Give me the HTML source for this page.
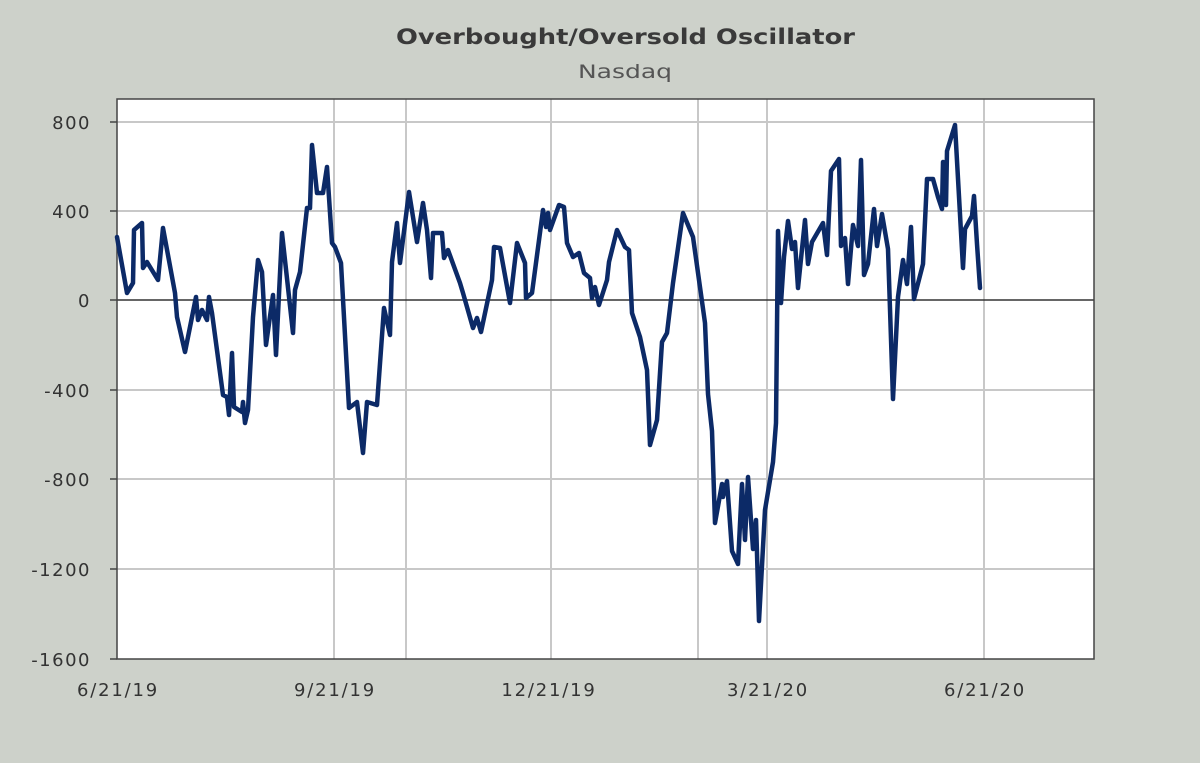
<!DOCTYPE html>
<html><head><meta charset="utf-8"><style>
html,body{margin:0;padding:0;background:#cdd1ca;}
svg{display:block;}
text{font-family:"DejaVu Sans","Liberation Sans",sans-serif;}
</style></head><body>
<svg width="1200" height="763" viewBox="0 0 1200 763" xmlns="http://www.w3.org/2000/svg">
<rect width="1200" height="763" fill="#cdd1ca"/>
<text x="396" y="44" textLength="459" lengthAdjust="spacingAndGlyphs" font-size="21" font-weight="bold" fill="#3a3a3a">Overbought/Oversold  Oscillator</text>
<text x="578" y="78" textLength="94" lengthAdjust="spacingAndGlyphs" font-size="19" fill="#555">Nasdaq</text>
<rect x="117" y="99" width="977" height="560" fill="#fff"/>
<g stroke="#c8c8c8" stroke-width="2">
<line x1="117" y1="122" x2="1094" y2="122"/>
<line x1="117" y1="211" x2="1094" y2="211"/>
<line x1="117" y1="390" x2="1094" y2="390"/>
<line x1="117" y1="479" x2="1094" y2="479"/>
<line x1="117" y1="569" x2="1094" y2="569"/>
<line x1="334" y1="99" x2="334" y2="659"/>
<line x1="406" y1="99" x2="406" y2="659"/>
<line x1="551" y1="99" x2="551" y2="659"/>
<line x1="698" y1="99" x2="698" y2="659"/>
<line x1="767" y1="99" x2="767" y2="659"/>
<line x1="984" y1="99" x2="984" y2="659"/>
</g>
<line x1="117" y1="300" x2="1094" y2="300" stroke="#333" stroke-width="1.5"/>
<rect x="117" y="99" width="977" height="560" fill="none" stroke="#444" stroke-width="1.5"/>
<g stroke="#444" stroke-width="1.5">
<line x1="110" y1="122" x2="117" y2="122"/><line x1="110" y1="211" x2="117" y2="211"/><line x1="110" y1="300" x2="117" y2="300"/><line x1="110" y1="390" x2="117" y2="390"/><line x1="110" y1="479" x2="117" y2="479"/><line x1="110" y1="569" x2="117" y2="569"/><line x1="110" y1="659" x2="117" y2="659"/>
</g>
<g font-size="18" fill="#333" text-anchor="end" letter-spacing="1.5">
<text x="91" y="129">800</text><text x="91" y="218">400</text><text x="91" y="307">0</text><text x="91" y="397">-400</text><text x="91" y="486">-800</text><text x="91" y="576">-1200</text><text x="91" y="666">-1600</text>
</g>
<g font-size="18" fill="#333" text-anchor="middle" letter-spacing="1.8">
<text x="118" y="696">6/21/19</text><text x="335" y="696">9/21/19</text><text x="549" y="696">12/21/19</text><text x="768" y="696">3/21/20</text><text x="985" y="696">6/21/20</text>
</g>
<polyline fill="none" stroke="#0c2a67" stroke-width="4.5" stroke-linejoin="round" stroke-linecap="round" points="
117,237 127,293 133,283 134,230 142,223 143,268 147,262 158,280 163,228 175,293 177,317 185,352 196,297 198,320 202,310 207,320 209,297 212,313 223,395 227,397 229,415 232,353 234,407 242,412 243,402 245,423 248,410 253,317 258,260 262,272 266,345 273,295 276,355 282,233 293,333 295,290 300,272 307,208 310,208 312,145 317,193 323,193 327,167 332,243 335,247 341,263 349,408 357,402 363,453 367,402 377,405 384,308 390,335 392,262 397,223 400,263 409,192 417,242 423,203 427,230 431,278 433,233 442,233 444,258 448,250 460,283 463,293 473,328 477,318 481,332 492,280 494,247 500,248 510,303 517,243 525,263 526,298 532,293 543,210 546,227 548,213 550,230 559,205 564,207 567,243 573,257 579,253 584,273 590,278 592,298 595,287 599,305 607,280 609,262 617,230 625,247 629,250 632,313 640,337 647,370 650,445 657,420 662,342 667,333 673,283 683,213 693,237 705,323 708,394 712,431 715,523 722,484 723,497 727,481 732,551 738,564 742,484 745,540 748,477 753,549 756,520 759,621 765,510 773,462 776,423 778,231 781,303 784,257 788,221 792,249 795,242 798,288 805,220 808,264 812,242 823,223 827,255 831,171 839,159 841,246 845,238 848,284 853,225 858,246 861,160 864,275 868,264 874,209 877,246 882,214 888,249 893,399 898,297 903,260 907,284 911,227 914,299 923,264 927,179 933,179 938,197 942,209 943,162 946,205 947,151 955,125 963,268 965,229 972,216 974,196 977,244 980,288"/>
</svg>
</body></html>
